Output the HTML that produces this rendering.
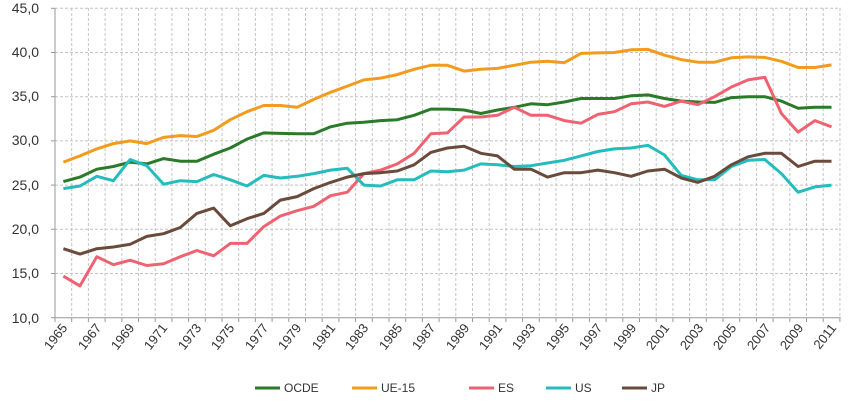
<!DOCTYPE html>
<html><head><meta charset="utf-8"><style>
html,body{margin:0;padding:0;background:#fff;}
svg{display:block;font-family:"Liberation Sans",sans-serif;}
</style></head><body>
<svg id="c" width="848" height="406" viewBox="0 0 848 406" xmlns="http://www.w3.org/2000/svg">
<g id="grid"></g>
<g font-size="14" fill="#333" text-anchor="end">
<text x="39" y="13">45,0</text>
<text x="39" y="57">40,0</text>
<text x="39" y="101">35,0</text>
<text x="39" y="145">30,0</text>
<text x="39" y="190">25,0</text>
<text x="39" y="234">20,0</text>
<text x="39" y="278">15,0</text>
<text x="39" y="323">10,0</text>
</g>
<g id="xl" font-size="13" fill="#333" text-anchor="end">
<text transform="translate(68,328) rotate(-52)">1965</text>
<text transform="translate(102,328) rotate(-52)">1967</text>
<text transform="translate(135,328) rotate(-52)">1969</text>
<text transform="translate(168,328) rotate(-52)">1971</text>
<text transform="translate(202,328) rotate(-52)">1973</text>
<text transform="translate(235,328) rotate(-52)">1975</text>
<text transform="translate(269,328) rotate(-52)">1977</text>
<text transform="translate(302,328) rotate(-52)">1979</text>
<text transform="translate(336,328) rotate(-52)">1981</text>
<text transform="translate(369,328) rotate(-52)">1983</text>
<text transform="translate(403,328) rotate(-52)">1985</text>
<text transform="translate(436,328) rotate(-52)">1987</text>
<text transform="translate(470,328) rotate(-52)">1989</text>
<text transform="translate(503,328) rotate(-52)">1991</text>
<text transform="translate(536,328) rotate(-52)">1993</text>
<text transform="translate(570,328) rotate(-52)">1995</text>
<text transform="translate(603,328) rotate(-52)">1997</text>
<text transform="translate(637,328) rotate(-52)">1999</text>
<text transform="translate(670,328) rotate(-52)">2001</text>
<text transform="translate(704,328) rotate(-52)">2003</text>
<text transform="translate(737,328) rotate(-52)">2005</text>
<text transform="translate(771,328) rotate(-52)">2007</text>
<text transform="translate(804,328) rotate(-52)">2009</text>
<text transform="translate(837,328) rotate(-52)">2011</text>
</g>
<g id="series"></g>
<g font-size="12" fill="#333">
<line x1="255" y1="388" x2="280" y2="388" stroke="#2a7a2a" stroke-width="3"/><text x="284" y="392">OCDE</text>
<line x1="352" y1="388" x2="377" y2="388" stroke="#f29b1d" stroke-width="3"/><text x="381" y="392">UE-15</text>
<line x1="469" y1="388" x2="494" y2="388" stroke="#ee6271" stroke-width="3"/><text x="498" y="392">ES</text>
<line x1="546" y1="388" x2="571" y2="388" stroke="#24bcbc" stroke-width="3"/><text x="575" y="392">US</text>
<line x1="622" y1="388" x2="647" y2="388" stroke="#6a4a3a" stroke-width="3"/><text x="651" y="392">JP</text>
</g>
</svg>
<script>
(function(){
function Y(v){return 317.7-(v-10)*8.84;}
function X(i){return 55+16.7*(i+0.5);}
var g=document.getElementById("grid"),h="";
for(var v=15;v<=45;v+=5)h+='<line x1="55" x2="840.7" y1="'+Y(v)+'" y2="'+Y(v)+'" stroke="#c4c4c4" stroke-dasharray="3,2" stroke-width="1"/>';
for(var i=1;i<=47;i++){var x=55+16.7*i;h+='<line x1="'+x+'" x2="'+x+'" y1="8" y2="317.7" stroke="#c4c4c4" stroke-dasharray="3,2" stroke-width="1"/>';h+='<line x1="'+x+'" x2="'+x+'" y1="317.7" y2="322" stroke="#999"/>';}
h+='<line x1="55" x2="55" y1="8" y2="322" stroke="#999"/><line x1="51" x2="55" y1="'+Y(10)+'" y2="'+Y(10)+'" stroke="#999"/>';
for(var v=15;v<=45;v+=5)h+='<line x1="51" x2="55" y1="'+Y(v)+'" y2="'+Y(v)+'" stroke="#999"/>';
h+='<line x1="55" x2="840.7" y1="317.7" y2="317.7" stroke="#999"/>';
g.innerHTML=h;
var D=[
["#2a7a2a",[25.4,25.9,26.8,27.1,27.6,27.4,28.0,27.7,27.7,28.5,29.2,30.2,30.9,30.85,30.8,30.8,31.6,32.0,32.1,32.3,32.4,32.9,33.6,33.6,33.5,33.1,33.5,33.8,34.2,34.1,34.4,34.8,34.8,34.8,35.1,35.2,34.8,34.5,34.4,34.35,34.9,35.0,35.0,34.5,33.7,33.8,33.8]],
["#f29b1d",[27.6,28.3,29.1,29.7,30.0,29.7,30.4,30.6,30.5,31.2,32.4,33.3,34.0,34.0,33.8,34.7,35.5,36.2,36.9,37.1,37.5,38.1,38.55,38.55,37.9,38.1,38.2,38.55,38.9,39.0,38.85,39.9,39.96,40.0,40.3,40.35,39.7,39.2,38.9,38.9,39.4,39.5,39.45,39.0,38.3,38.3,38.6]],
["#ee6271",[14.7,13.6,16.9,16.0,16.5,15.9,16.1,16.9,17.6,17.0,18.4,18.4,20.3,21.5,22.1,22.6,23.8,24.2,26.3,26.7,27.4,28.6,30.8,30.9,32.7,32.7,32.9,33.8,32.9,32.9,32.3,32.0,33.0,33.3,34.2,34.4,33.9,34.5,34.1,35.0,36.1,36.9,37.2,33.1,31.0,32.3,31.6]],
["#24bcbc",[24.6,24.9,26.0,25.5,27.9,27.2,25.1,25.5,25.4,26.2,25.6,24.9,26.1,25.8,26.0,26.3,26.7,26.9,25.0,24.9,25.6,25.6,26.6,26.5,26.7,27.4,27.3,27.1,27.2,27.5,27.8,28.3,28.8,29.1,29.2,29.5,28.4,26.1,25.6,25.6,27.1,27.8,27.9,26.3,24.2,24.8,25.0]],
["#6a4a3a",[17.8,17.2,17.8,18.0,18.3,19.2,19.5,20.2,21.8,22.4,20.4,21.2,21.8,23.3,23.7,24.6,25.3,25.9,26.3,26.4,26.6,27.3,28.7,29.2,29.4,28.6,28.3,26.8,26.8,25.9,26.4,26.4,26.7,26.4,26.0,26.6,26.8,25.8,25.3,26.0,27.3,28.2,28.6,28.6,27.1,27.7,27.7]]
];
var s="";
D.forEach(function(d){var p=d[1].map(function(v,i){return X(i).toFixed(1)+","+Y(v).toFixed(1);}).join(" ");
s+='<polyline points="'+p+'" fill="none" stroke="'+d[0]+'" stroke-width="3" stroke-linejoin="round"/>';});
document.getElementById("series").innerHTML=s;
})();
</script>
</body></html>
